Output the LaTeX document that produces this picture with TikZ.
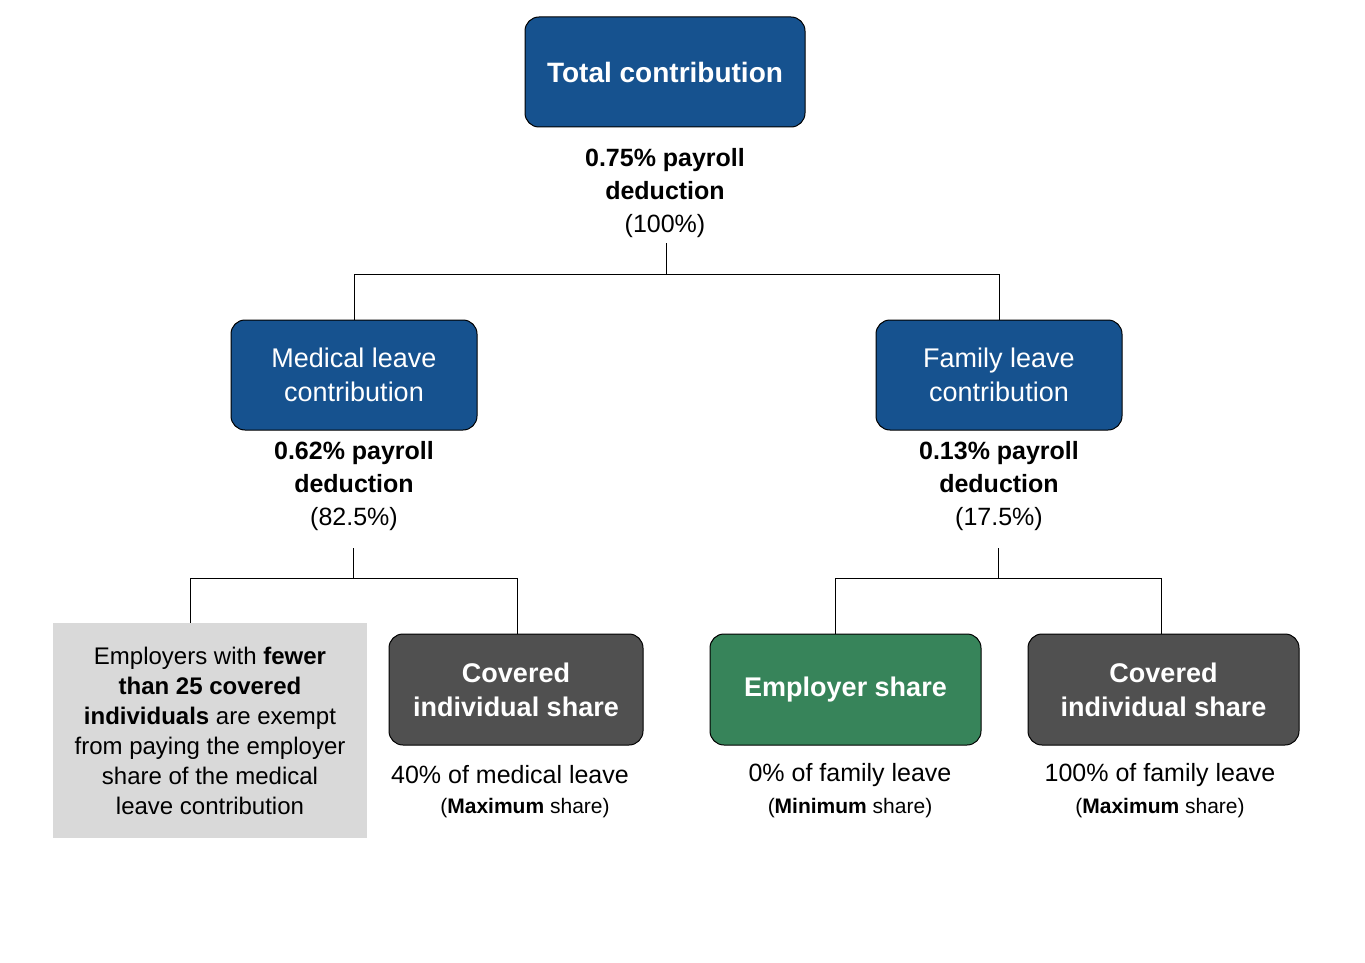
\documentclass[tikz,border=0pt]{standalone}
\usepackage{fontspec}
\setmainfont{Liberation Sans}
\definecolor{cblue}{HTML}{16528F}
\definecolor{cgrey}{HTML}{505050}
\definecolor{cgreen}{HTML}{37845A}
\definecolor{clight}{HTML}{D9D9D9}
\begin{document}
\begin{tikzpicture}[x=0.5pt,y=-0.5pt,
  box/.style={draw=black,rounded corners=7pt,text=white,align=center,inner sep=0pt,line width=0.5pt},
  lbl/.style={align=center,inner sep=0pt,font=\fontsize{12.5}{16.5}\selectfont},
  small/.style={align=center,inner sep=0pt,font=\fontsize{10.5}{13}\selectfont},
  conn/.style={draw=black,line width=0.5pt}]
\useasboundingbox (0,0) rectangle (1365,963);
\node[box,fill=cblue,minimum width=140pt,minimum height=55pt,font=\fontsize{14}{17}\selectfont\bfseries] (tot) at (665,72) {Total contribution};
\node[lbl] (totl) at (665,193) {\textbf{0.75\% payroll}\\\textbf{deduction}\\(100\%)};
\node[box,fill=cblue,minimum width=123pt,minimum height=55pt,font=\fontsize{13.5}{17}\selectfont] (med) at (354,375) {Medical leave\\contribution};
\node[box,fill=cblue,minimum width=123pt,minimum height=55pt,font=\fontsize{13.5}{17}\selectfont] (fam) at (999,375) {Family leave\\contribution};
\node[lbl] (medl) at (354,486) {\textbf{0.62\% payroll}\\\textbf{deduction}\\(82.5\%)};
\node[lbl] (faml) at (999,486) {\textbf{0.13\% payroll}\\\textbf{deduction}\\(17.5\%)};
\node[fill=clight,minimum width=157pt,minimum height=107.5pt,inner sep=0pt] (ex) at (210,730.5) {};
\node[lbl,font=\fontsize{12}{15}\selectfont] at (ex) {Employers with \textbf{fewer}\\\textbf{than 25 covered}\\\textbf{individuals} are exempt\\from paying the employer\\share of the medical\\leave contribution};
\node[box,fill=cgrey,minimum width=127pt,minimum height=55.5pt,font=\fontsize{13.5}{17}\selectfont\bfseries] (cov1) at (516,689.5) {Covered\\individual share};
\node[box,fill=cgreen,minimum width=135.5pt,minimum height=55.5pt,font=\fontsize{13.5}{17}\selectfont\bfseries] (emp) at (845.5,689.5) {Employer share};
\node[box,fill=cgrey,minimum width=135.5pt,minimum height=55.5pt,font=\fontsize{13.5}{17}\selectfont\bfseries] (cov2) at (1163.5,689.5) {Covered\\individual share};
\node[lbl] (c1a) at (510,775) {40\% of medical leave};
\node[small] (c1b) at (525,808) {(\textbf{Maximum} share)};
\node[lbl] (ea) at (850,775) {0\% of family leave};
\node[small] (eb) at (850,808) {(\textbf{Minimum} share)};
\node[lbl] (c2a) at (1160,775) {100\% of family leave};
\node[small] (c2b) at (1160,808) {(\textbf{Maximum} share)};
\coordinate (t0) at (666,243);
\coordinate (m0) at (353,548);
\coordinate (f0) at (998,548);
\draw[conn] (t0) -- (666,274) -| (med.north);
\draw[conn] (666,274) -| (fam.north);
\draw[conn] (m0) -- (353,578) -| (190,623);
\draw[conn] (353,578) -| (517,634);
\draw[conn] (f0) -- (998,578) -| (835,634);
\draw[conn] (998,578) -| (1161,634);
\end{tikzpicture}
\end{document}
